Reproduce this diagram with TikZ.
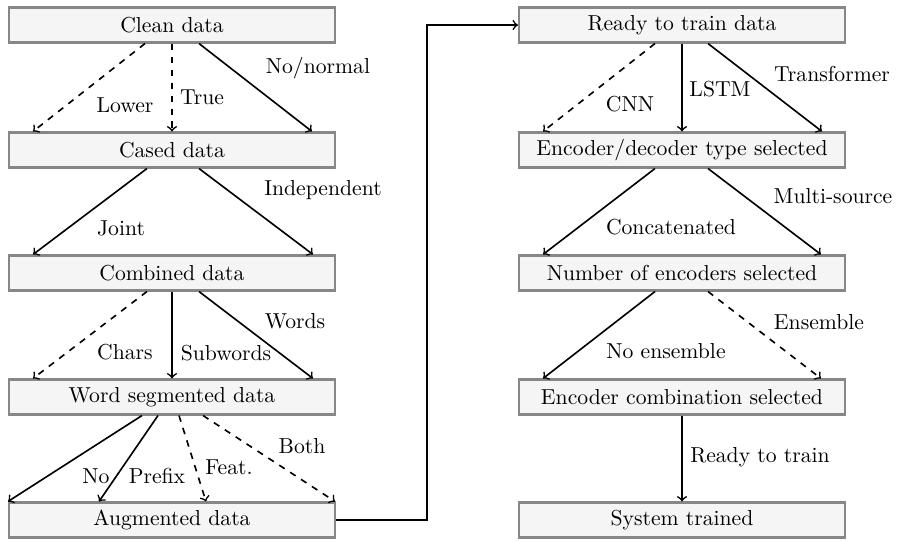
\documentclass[tikz,border=0pt]{standalone}
\usetikzlibrary{calc}
\begin{document}
\begin{tikzpicture}[x=0.4617pt,y=-0.4617pt,
  box/.style={draw=black!47,line width=1.1pt,fill=black!4,minimum width=150.4pt,minimum height=16pt,inner sep=0pt,font=\fontsize{10}{12}\selectfont},
  lbl/.style={inner sep=0pt,font=\fontsize{10}{12}\selectfont},
  arr/.style={->,line width=0.75pt},
  darr/.style={->,line width=0.75pt,dashed}]
\useasboundingbox (0,0) rectangle (897,541);
% left column
\node[box] (clean) at (172,25) {Clean data};
\node[box] (cased) at (172,150) {Cased data};
\node[box] (comb) at (172,273) {Combined data};
\node[box] (wseg) at (172,397) {Word segmented data};
\node[box] (aug) at (172,520) {Augmented data};
% right column
\node[box] (ready) at (682,25) {Ready to train data};
\node[box] (encdec) at (682,150) {Encoder/decoder type selected};
\node[box] (numenc) at (682,273) {Number of encoders selected};
\node[box] (enccomb) at (682,397) {Encoder combination selected};
\node[box] (sys) at (682,520) {System trained};
% clean -> cased
\draw[darr] ($(clean.south)+(-27,0)$) -- ($(cased.north)+(-139,0)$);
\draw[darr] (clean.south) -- (cased.north);
\draw[arr] ($(clean.south)+(27,0)$) -- ($(cased.north)+(140,0)$);
\node[lbl] (lLower) at (125,105) {Lower};
\node[lbl] (lTrue) at (202,97) {True};
\node[lbl] (lNo) at (318,68) {No/normal};
% cased -> combined
\draw[arr] ($(cased.south)+(-25,0)$) -- ($(comb.north)+(-139,0)$);
\draw[arr] ($(cased.south)+(27,0)$) -- ($(comb.north)+(141,0)$);
\node[lbl] (lJoint) at (121,228) {Joint};
\node[lbl] (lIndep) at (323,190) {Independent};
% combined -> word segmented
\draw[darr] ($(comb.south)+(-25,0)$) -- ($(wseg.north)+(-139,0)$);
\draw[arr] (comb.south) -- (wseg.north);
\draw[arr] ($(comb.south)+(27,0)$) -- ($(wseg.north)+(141,0)$);
\node[lbl] (lChars) at (125,352) {Chars};
\node[lbl] (lSub) at (226,353) {Subwords};
\node[lbl] (lWords) at (295,321) {Words};
% word segmented -> augmented
\draw[arr] ($(wseg.south)+(-30,0)$) -- ($(aug.north)+(-164,0)$);
\draw[arr] ($(wseg.south)+(-14,0)$) -- ($(aug.north)+(-73,0)$);
\draw[darr] ($(wseg.south)+(7,0)$) -- ($(aug.north)+(34,0)$);
\draw[darr] ($(wseg.south)+(31,0)$) -- ($(aug.north)+(163,0)$);
\node[lbl] (lNo2) at (96,476) {No};
\node[lbl] (lPrefix) at (157,476) {Prefix};
\node[lbl] (lFeat) at (229,467) {Feat.};
\node[lbl] (lBoth) at (302,446) {Both};
% augmented -> ready
\coordinate (c1) at (427,520);
\coordinate (c2) at (427,25);
\draw[arr] (aug.east) -- (c1) -- (c2) -- (ready.west);
% ready -> encdec
\draw[darr] ($(ready.south)+(-27,0)$) -- ($(encdec.north)+(-139,0)$);
\draw[arr] (ready.south) -- (encdec.north);
\draw[arr] ($(ready.south)+(26,0)$) -- ($(encdec.north)+(140,0)$);
\node[lbl] (lCNN) at (630,104) {CNN};
\node[lbl] (lLSTM) at (720,89) {LSTM};
\node[lbl] (lTrans) at (832,74) {Transformer};
% encdec -> numenc
\draw[arr] ($(encdec.south)+(-27,0)$) -- ($(numenc.north)+(-139,0)$);
\draw[arr] ($(encdec.south)+(26,0)$) -- ($(numenc.north)+(139,0)$);
\node[lbl] (lConc) at (671,227) {Concatenated};
\node[lbl] (lMulti) at (833,196) {Multi-source};
% numenc -> enccomb
\draw[arr] ($(numenc.south)+(-27,0)$) -- ($(enccomb.north)+(-139,0)$);
\draw[darr] ($(numenc.south)+(26,0)$) -- ($(enccomb.north)+(139,0)$);
\node[lbl] (lNoEns) at (666,351) {No ensemble};
\node[lbl] (lEns) at (819,322) {Ensemble};
% enccomb -> sys
\draw[arr] (enccomb.south) -- (sys.north);
\node[lbl] (lReady) at (760,457) {Ready to train};
\end{tikzpicture}
\end{document}
